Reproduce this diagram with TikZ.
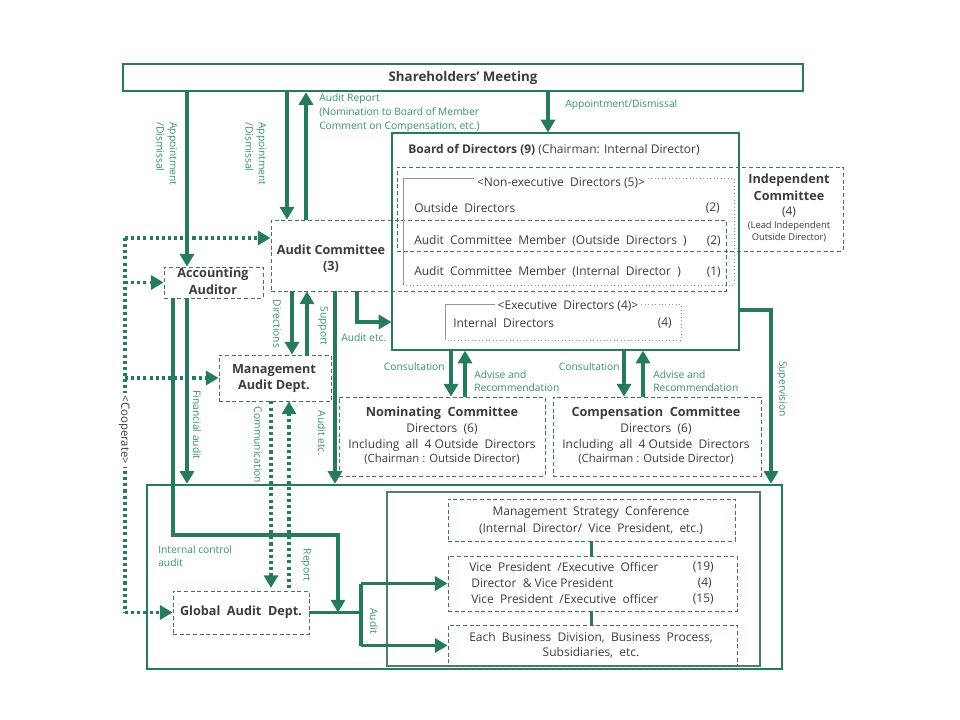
\documentclass[tikz,border=0pt]{standalone}
\usepackage{fontspec}
\setmainfont{Open Sans}
\usetikzlibrary{arrows.meta,fit}
\definecolor{gr}{RGB}{38,122,95}
\definecolor{lg}{RGB}{55,145,115}
\definecolor{tx}{RGB}{60,60,60}
\definecolor{dg}{RGB}{75,110,98}
\definecolor{gy}{RGB}{150,150,150}
\definecolor{ib}{RGB}{80,125,108}
\newcommand\myfs[2]{\fontsize{#1}{#2}\selectfont}
\begin{document}
\begin{tikzpicture}[x=0.75pt,y=-0.75pt,
 arr/.style={draw=gr, line width=2.4pt, -{Triangle[width=10.5pt,length=9.5pt]}},
 ln/.style={draw=gr, line width=2.4pt},
 dotln/.style={draw=gr, line width=2.4pt, dash pattern=on 2.3pt off 2.3pt},
 darr/.style={dotln, -{Triangle[width=10.5pt,length=9.5pt]}},
 fitbox/.style={inner sep=0pt},
 dbox/.style={draw=dg, line width=0.6pt, dash pattern=on 3pt off 2pt, inner sep=0pt},
 lab/.style={text=lg, font=\myfs{7.7}{10}, inner sep=0pt, align=left},
 rlab/.style={lab, rotate=-90},
 t/.style={text=tx, font=\myfs{9}{12}, inner sep=0pt},
 tb/.style={text=tx, font=\myfs{9.5}{12}\bfseries, inner sep=0pt, align=center},
 tc/.style={text=tx, font=\myfs{9}{12}, inner sep=0pt, align=center},
]
\useasboundingbox (0,0) rectangle (960,720);

% ---------- boxes ----------
\node[draw=gr, line width=1.8pt, fitbox, fit={(123,64)(803,91)}] (sh) {};
\node[tb, font=\myfs{10}{12}\bfseries] at (463,78) {Shareholders’ Meeting};

\node[draw=gr, line width=0.9pt, fitbox, fit={(392,133)(739,350)}] (bod) {};
\node[t, anchor=west] at (408,150) {\textbf{Board of Directors (9)} (Chairman: Internal Director)};

\node[dbox, fit={(397,167)(843,251)}] (ind) {};
\node[dbox, fit={(271,220)(726,291)}] (ac) {};
\node[fitbox, fit={(404,179)(734,285)}] (ne) {};
\node[fitbox, fit={(446,305)(681,340)}] (ex) {};

\node[t, fill=white, inner xsep=2pt] (netitle) at (561,183) {<Non-executive\ \ Directors (5)>};
\draw[gy, line width=0.5pt] (ne.south west) -- (ne.north west) -- (ne.north -| netitle.west);
\draw[gy, line width=0.6pt, dotted] (ne.north -| netitle.east) -- (ne.north east) -- (ne.south east) -- (ne.south west);

\node[t, fill=white, inner xsep=2pt] (extitle) at (568,306) {<Executive\ \ Directors (4)>};
\draw[gy, line width=0.5pt] (ex.south west) -- (ex.north west) -- (ex.north -| extitle.west);
\draw[gy, line width=0.6pt, dotted] (ex.north -| extitle.east) -- (ex.north east) -- (ex.south east) -- (ex.south west);

\node[t, anchor=west] at (414,208) {Outside\ \ Directors};
\node[t, anchor=east] at (720,208) {(2)};
\node[t, anchor=west] at (414,241) {Audit\ \ Committee\ \ Member\ \ (Outside\ \ Directors\ \ )};
\node[t, anchor=east] at (721,241) {(2)};
\node[t, anchor=west] at (414,272) {Audit\ \ Committee\ \ Member\ \ (Internal\ \ Director\ \ )};
\node[t, anchor=east] at (721,272) {(1)};
\node[t, anchor=west] at (453,323) {Internal\ \ Directors};
\node[t, anchor=east] at (672,323) {(4)};

\node[tb] at (789,180) {Independent};
\node[tb] at (789,196) {Committee};
\node[tc] at (789,212) {(4)};
\node[tc, font=\myfs{7}{9}] at (789,226) {(Lead Independent};
\node[tc, font=\myfs{7}{9}] at (789,238) {Outside Director)};

\node[tb] at (331,250) {Audit Committee};
\node[tb] at (331,267) {(3)};

\node[dbox, fit={(164,267)(263,298)}] (acc) {};
\node[tb] at (213,274.5) {Accounting};
\node[tb] at (213,290) {Auditor};

\node[dbox, fit={(219,355)(331,401)}] (mad) {};
\node[tb] at (274,371) {Management};
\node[tb] at (274,386.5) {Audit Dept.};

\node[dbox, fit={(339,397)(545,476)}] (nom) {};
\node[tb] at (442,413) {Nominating\ \ Committee};
\node[tc] at (442,429) {Directors\ \ (6)};
\node[tc] at (442,445) {Including\ \ all\ \ 4\ Outside\ \ Directors};
\node[tc, font=\myfs{8.5}{11}] at (442,459) {(Chairman : Outside Director)};

\node[dbox, fit={(553,397)(761,476)}] (com) {};
\node[tb] at (656,413) {Compensation\ \ Committee};
\node[tc] at (656,429) {Directors\ \ (6)};
\node[tc] at (656,445) {Including\ \ all\ \ 4\ Outside\ \ Directors};
\node[tc, font=\myfs{8.5}{11}] at (656,459) {(Chairman : Outside Director)};

\node[draw=gr, line width=1.8pt, fitbox, fit={(147,485)(782,669)}] (out) {};
\node[draw=ib, line width=0.8pt, fitbox, fit={(387,492)(760,666)}] (inn) {};

\node[dbox, fit={(448,499)(735,541)}] (msc) {};
\node[tc] at (591,512) {Management\ \ Strategy\ \ Conference};
\node[tc] at (591,528.5) {(Internal\ \ Director/\ \ Vice\ \ President,\ \ etc.)};

\node[dbox, fit={(448,556)(737,611)}] (vp) {};
\node[t, anchor=west] at (469,567) {Vice\ \ President\ \ /Executive\ \ Officer};
\node[t, anchor=east] at (714,567) {(19)};
\node[t, anchor=west] at (471,583) {Director\ \ \& Vice\ President};
\node[t, anchor=east] at (712,583) {(4)};
\node[t, anchor=west] at (471,599) {Vice\ \ President\ \ /Executive\ \ officer};
\node[t, anchor=east] at (714,599) {(15)};

\node[dbox, fit={(448,625)(737,666)}] (ebd) {};
\node[tc] at (591,637.5) {Each\ \ Business\ \ Division,\ \ Business\ \ Process,};
\node[tc] at (591,653) {Subsidiaries,\ \ etc.};

\node[dbox, fit={(173,591)(309,634)}] (ga) {};
\node[tb] at (241,612.5) {Global\ \ Audit\ \ Dept.};

% ---------- helper coordinates ----------
\coordinate (c187) at (187,0);
\coordinate (c287) at (287,0);
\coordinate (c306) at (306,0);
\coordinate (c548) at (548,0);
\coordinate (c292) at (292,0);
\coordinate (c307) at (307,0);
\coordinate (c335) at (335,0);
\coordinate (c451) at (451,0);
\coordinate (c465) at (465,0);
\coordinate (c624) at (624,0);
\coordinate (c643) at (643,0);
\coordinate (ae) at (357,322);
\coordinate (sv) at (771,310);
\coordinate (ic1) at (173,535);
\coordinate (ic2) at (338,535);
\coordinate (jn) at (361,0);
\coordinate (co1) at (125,238);
\coordinate (co2) at (125,612.5);
\coordinate (cm) at (271,588);
\coordinate (rp) at (289,588);

% ---------- solid connectors ----------
\draw[arr] (sh.south -| c187) -- (acc.north -| c187);
\draw[arr] (sh.south -| c287) -- (ac.north -| c287);
\draw[arr] (ac.north -| c306) -- (sh.south -| c306);
\draw[arr] (sh.south -| c548) -- (bod.north -| c548);

\draw[arr] (ac.south -| c292) -- (mad.north -| c292);
\draw[arr] (mad.north -| c307) -- (ac.south -| c307);
\draw[arr] (ac.south -| c335) -- (out.north -| c335);
\draw[arr] (ac.south -| ae) -- (ae) -- (bod.west |- ae);

\draw[arr] (bod.south -| c451) -- (nom.north -| c451);
\draw[arr] (nom.north -| c465) -- (bod.south -| c465);
\draw[arr] (bod.south -| c624) -- (com.north -| c624);
\draw[arr] (com.north -| c643) -- (bod.south -| c643);

\draw[arr] (bod.east |- sv) -- (sv) -- (sv |- out.north);

\draw[arr] (acc.south -| c187) -- (out.north -| c187);
\draw[arr] (acc.south -| ic1) -- (ic1) -- (ic2) -- (ic2 |- ga.east);

\draw[ln] (ga.east) -- (jn |- ga.east);
\draw[ln] (jn |- vp.west) -- (jn |- ebd.west);
\draw[arr] (jn |- vp.west) -- (vp.west);
\draw[arr] (jn |- ebd.west) -- (ebd.west);

\draw[ln] (msc.south) -- (msc.south |- vp.north);
\draw[ln] (msc.south |- vp.south) -- (msc.south |- ebd.north);

% ---------- dotted connectors ----------
\draw[dotln] (co1) -- (co2);
\draw[darr] (co1) -- (ac.west |- co1);
\draw[darr] (co1 |- acc.west) -- (acc.west);
\draw[darr] (co1 |- mad.west) -- (mad.west);
\draw[darr] (co2) -- (ga.west);
\draw[darr] (mad.south -| cm) -- (cm);
\draw[darr] (rp) -- (mad.south -| rp);

% ---------- labels ----------
\node[rlab] at (167,154) {Appointment\\/Dismissal};
\node[rlab] at (256,154) {Appointment\\/Dismissal};
\node[lab, anchor=north west, font=\myfs{7.7}{10.5}] at (319,93) {Audit Report\\(Nomination to Board of Member\\Comment on Compensation, etc.)};
\node[lab, anchor=west] at (565,105) {Appointment/Dismissal};
\node[rlab] at (277,324) {Directions};
\node[rlab] at (323,326) {Support};
\node[lab, anchor=west] at (341,338) {Audit etc.};
\node[rlab] at (322,433) {Audit etc.};
\node[rlab] at (197,425) {Financial audit};
\node[rlab] at (258,445) {Communication};
\node[rlab] at (306,565) {Report};
\node[rlab, fill=white, inner sep=2pt, text=tx, font=\myfs{8.5}{11}] at (124,430) {<Cooperate>};
\node[lab, anchor=north west, font=\myfs{7.7}{10}] at (158,545) {Internal control\\audit};
\node[rlab] at (374,621) {Audit};
\node[lab, anchor=east] at (445,367) {Consultation};
\node[lab, anchor=west, font=\myfs{7.7}{10}] at (474,381) {Advise and\\Recommendation};
\node[lab, anchor=east] at (620,367) {Consultation};
\node[lab, anchor=west, font=\myfs{7.7}{10}] at (653,381) {Advise and\\Recommendation};
\node[rlab] at (782,389) {Supervision};
\end{tikzpicture}
\end{document}
